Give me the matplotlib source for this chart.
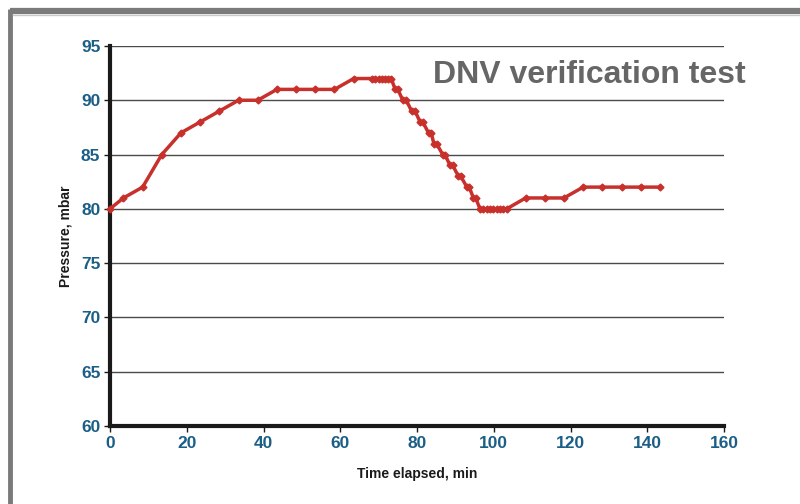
import matplotlib

matplotlib.use("Agg")
import matplotlib.pyplot as plt
from matplotlib.lines import Line2D

# pressure log
time_min = [0, 3.5, 8.5, 13.5, 18.5, 23.5, 28.5, 33.5, 38.5, 43.5, 48.5, 53.5, 58.5, 63.5,
            68.3, 69.1, 70.0, 70.8, 71.6, 72.5, 73.3,
            74.3, 75.0, 76.3, 77.2, 78.6, 79.5, 80.8, 81.5, 83.0, 83.7, 84.4,
            85.1, 86.7, 87.3, 88.6, 89.3, 90.8, 91.4, 93.0, 93.6, 94.7, 95.3,
            96.4, 97.3, 98.2, 99.0, 99.9, 100.8, 101.6, 102.5, 103.4,
            108.3, 113.3, 118.3, 123.3, 128.3, 133.3, 138.3, 143.3]
pressure_mbar = [80, 81, 82, 85, 87, 88, 89, 90, 90, 91, 91, 91, 91, 92,
                 92, 92, 92, 92, 92, 92, 92,
                 91, 91, 90, 90, 89, 89, 88, 88, 87, 87, 86,
                 86, 85, 85, 84, 84, 83, 83, 82, 82, 81, 81,
                 80, 80, 80, 80, 80, 80, 80, 80, 80,
                 81, 81, 81, 82, 82, 82, 82, 82]

x_ticks = [0, 20, 40, 60, 80, 100, 120, 140, 160]
y_ticks = [60, 65, 70, 75, 80, 85, 90, 95]

sans = ["Liberation Sans", "DejaVu Sans"]
tick_blue = "#1b5e86"
red = "#c8302c"

fig = plt.figure(figsize=(8, 5.04), dpi=100)

# grey slide frame (top and left)
fig.add_artist(Line2D([0.012, 1.0], [0.979, 0.979], color="#7a7a7a", lw=4.5,
                      transform=fig.transFigure, solid_capstyle="butt"))
fig.add_artist(Line2D([0.0125, 0.0125], [0.0, 0.983], color="#7a7a7a", lw=3.5,
                      transform=fig.transFigure, solid_capstyle="butt"))
fig.add_artist(Line2D([0.016, 1.0], [0.970, 0.970], color="#c8c8c8", lw=1.0,
                      transform=fig.transFigure))

ax = fig.add_axes([0.1375, 0.1548, 0.7675, 0.754])
ax.plot(time_min, pressure_mbar, color=red, lw=2.5, marker="D", ms=3.5,
        mec=red, mfc=red, zorder=3, clip_on=False)

ax.set_xlim(0, 160)
ax.set_ylim(60, 95)
ax.set_xticks(x_ticks)
ax.set_yticks(y_ticks)
ax.yaxis.grid(True, color="#4a4a4a", lw=1.0)
ax.set_axisbelow(True)

for side in ("top", "right"):
    ax.spines[side].set_visible(False)
for side in ("left", "bottom"):
    ax.spines[side].set_linewidth(3)
    ax.spines[side].set_color("#1a1a1a")

ax.tick_params(axis="both", direction="out", length=4, width=1, color="#1a1a1a",
               labelcolor=tick_blue, pad=3)
for lab in ax.get_xticklabels() + ax.get_yticklabels():
    lab.set_fontfamily(sans)
    lab.set_fontweight("bold")
    lab.set_fontsize(12.5)

ax.set_xlabel("Time elapsed, min", fontfamily=sans, fontweight="bold",
              fontsize=10, color="#1a1a1a", labelpad=12)
ax.set_ylabel("Pressure, mbar", fontfamily=sans, fontweight="bold",
              fontsize=10, color="#1a1a1a", labelpad=6)

fig.text(0.932, 0.851, "DNV verification test", ha="right", va="center",
         fontfamily=sans, fontweight="bold", fontsize=23, color="#666666")

fig.savefig("out.png", dpi=100)
